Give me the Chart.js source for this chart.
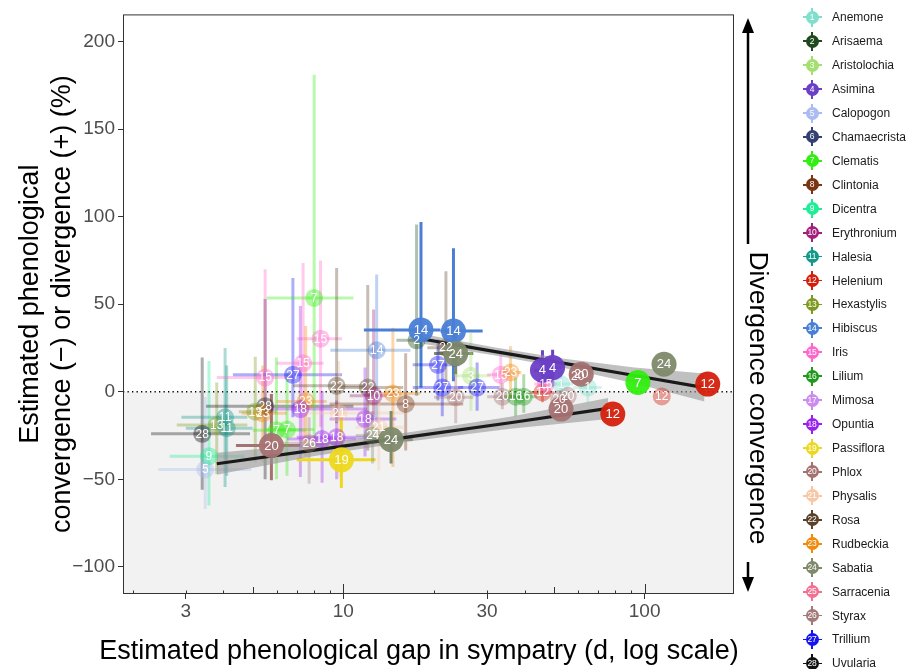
<!DOCTYPE html>
<html>
<head>
<meta charset="utf-8">
<script src="https://cdn.jsdelivr.net/npm/chart.js@4.4.1/dist/chart.umd.min.js"></script>
<style>
  html, body { margin: 0; padding: 0; background: #fff; }
  #wrap { position: relative; width: 906px; height: 669px; font-family: "Liberation Sans", Arial, sans-serif; }
  .item { position: absolute; left: 798px; height: 24px; display: flex; align-items: center; font-size: 12px; color: #1a1a1a; white-space: nowrap; }
  .key { position: relative; width: 28px; height: 24px; margin-right: 6px; flex: none; }
  .key .h { position: absolute; left: 4.5px; top: 11.1px; width: 19px; height: 1.8px; }
  .key .v { position: absolute; left: 13.1px; top: 2.5px; width: 1.8px; height: 19px; }
  .key .dot { position: absolute; left: 7.5px; top: 5.5px; width: 13px; height: 13px; border-radius: 50%; color: #fff; font-size: 8.5px; line-height: 13px; text-align: center; letter-spacing: -0.3px; }
</style>
</head>
<body>
<div id="wrap">
  <canvas id="chart" width="906" height="669"></canvas>
  <div id="legend"></div>
</div>
<script>
const FONT = '"Liberation Sans", Arial, sans-serif';

const genera = [
  "Anemone", "Arisaema", "Aristolochia", "Asimina", "Calopogon", "Chamaecrista", "Clematis",
  "Clintonia", "Dicentra", "Erythronium", "Halesia", "Helenium", "Hexastylis", "Hibiscus",
  "Iris", "Lilium", "Mimosa", "Opuntia", "Passiflora", "Phlox", "Physalis", "Rosa",
  "Rudbeckia", "Sabatia", "Sarracenia", "Styrax", "Trillium", "Uvularia"
];

const palette = [
  "#7fdfcc", "#1f4a1f", "#a4e070", "#6b3fc6", "#aabcf2", "#34406f", "#33ee11",
  "#7a3512", "#20ee96", "#a3207a", "#12998a", "#d3200c", "#7d9a1e", "#4a7fd6",
  "#ff66cc", "#1f9a1a", "#cc8cef", "#9a22ee", "#ecd81e", "#a57272", "#f7c8a6", "#5b4129",
  "#f28a0c", "#7e8a6b", "#f27192", "#a37a7a", "#1414f0", "#111111"
];

// one entry per species pair: genus number, gap in sympatry (d), change (%), intervals
const ptGenus = [28, 5, 9, 13, 11, 11, 28, 13, 23, 20, 7, 7, 15, 27, 15, 15, 7, 23, 18, 26,
  18, 18, 21, 19, 22, 14, 22, 10, 23, 8, 18, 21, 24, 24, 14, 14, 2, 22, 24, 27,
  3, 27, 27, 20, 15, 23, 20, 16, 16, 12, 15, 4, 4, 1, 1, 20, 20, 20, 20, 20,
  24, 7, 12, 12, 12];
const ptGap = [3.4, 3.48, 3.58, 3.8, 4.05, 4.1, 5.5, 5.1, 5.4, 5.77, 6.0, 6.5, 5.5, 6.8, 7.35, 8.4, 8.0, 7.5, 7.2, 7.7,
  8.5, 9.5, 9.65, 9.85, 9.5, 12.9, 12.05, 12.6, 14.6, 16.1, 11.8, 13.1, 12.5, 14.4, 18.1, 23.2, 17.5, 21.9, 23.6, 20.6,
  26.5, 27.8, 21.3, 23.6, 33.3, 35.9, 33.7, 37.3, 39.7, 45.8, 47, 45.8, 49.5, 52.8, 64.8, 60, 61.6, 52, 55.6, 52.8,
  116, 95, 162, 114, 78.4];
const ptChange = [-24, -44.4, -36.8, -19, -14.6, -20.8, -8.3, -11.4, -12.3, -30.7, -22, -21.6, 8.1, 9.7, 16.3, 30.3, 53.6, -5.5, -9.9, -29.4,
  -27, -26, -12.1, -38.9, 3.4, 23.7, 2.4, -2.3, -1, -7, -15.5, -20.3, -25, -27.3, 35.3, 34.7, 29.4, 25.2, 21.8, 15.4,
  9.1, 2.4, 2.4, -3.2, 9.7, 11, -2.8, -2.8, -2.8, -0.4, 4.4, 12.3, 13.8, 4.4, 2.4, 9.1, 10, -4.2, -2.3, -9.9,
  15.7, 5.3, 4.4, -2.7, -12.7];
const ptGapLo = [2.3, 2.43, 2.65, 2.8, 2.9, 3.0, 3.5, 4.5, 4.6, 4.4, 5.0, 5.5, 3.8, 4.3, 6.0, 7.0, 5.57, 6.0, 5.5, 6.0,
  6.5, 7.0, 7.5, 7.0, 6.8, 9.05, 9.8, 10.5, 13.2, 9, 9, 11, 11, 12, 11.7, 21, 15, 19, 20, 17,
  23.2, 24, 17, 20, 30, 33, 30, 33, 36, 41, 43, 43, 46, 48, 58, null, null, null, null, null,
  null, null, null, null, null];
const ptGapHi = [4.9, 4.95, 4.7, 4.8, 4.8, 5.0, 10.8, 6.0, 6.5, 7.2, 7.5, 8.0, 6.8, 9.9, 8.6, 9.9, 10.8, 8.8, 12, 10,
  11, 12, 16, 12.8, 12, 16.7, 15.8, 15, 18, 25, 15, 16, 14, 17, 21, 29, 20, 25, 27, 24.3,
  30.9, 33, 25, 27, 37, 39, 37, 41, 44, 50, 51, 49, 53, 58, 72, null, null, null, null, null,
  null, null, null, null, null];
const ptChangeLo = [-56, -67, -65, -47, -54.4, -48, -50, -40, -40, -50.6, -50, -48, -14.6, -14.6, -26, -20, -26, -37, -48.7, -52.5,
  -52, -50, -48.7, -55, -18, -18, -33.6, -14.6, -43, -33.6, -37, -45, -41, -41, 2.4, 6, -2.3, 4.5, 10, -5,
  -10.8, -10.8, -14, -18, -5, -3, -10, -14, -12, -6, -3, 2.5, 3, -4, -6, null, null, null, null, null,
  null, null, null, null, null];
const ptChangeHi = [19.5, -3, 17.6, 5.3, 25, 15, 53, 20, 15, -1.3, 19.5, 10, 70, 65, 73.5, 75, 181, 37.5, 49, -14.6,
  0.5, -5, 17.6, -14.6, 70.7, 67, 61, 47, 36.6, 22, 13.8, -5, -11, -11, 97, 82, 95.5, 68.8, 35, 30,
  33.7, 16.7, 15, 10, 22, 26, 5, 8, 10, 5, 12, 23.7, 24, 12, 10, null, null, null, null, null,
  null, null, null, null, null];
const ptSignificant = [0, 0, 0, 0, 0, 0, 0, 0, 0, 1, 0, 0, 0, 0, 0, 0, 0, 0, 0, 0,
  0, 0, 0, 1, 0, 0, 0, 0, 0, 0, 0, 0, 0, 1, 1, 1, 0, 0, 1, 0,
  0, 0, 0, 0, 0, 0, 0, 0, 0, 0, 0, 1, 1, 0, 0, 0, 1, 0, 0, 1,
  1, 1, 1, 0, 1];

// fitted trends with confidence bands
const divFitX = [18.5, 31.6, 54.1, 92.5, 158];
const divFitY = [30, 23.1, 16.2, 9.3, 2.4];
const divBandLo = [27.2, 20.8, 13.6, 4.8, -5.6];
const divBandHi = [32.8, 25.4, 18.8, 13.8, 10.4];
const conFitX = [3.8, 8.03, 17.0, 35.8, 75.7];
const conFitY = [-41.1, -33.3, -25.5, -17.7, -9.5];
const conBandLo = [-47.4, -36.7, -28.1, -21.1, -15.5];
const conBandHi = [-34.8, -29.9, -22.9, -14.3, -3.5];

const xTicks = [3, 10, 30, 100];
const yTicks = [-100, -50, 0, 50, 100, 150, 200];
const xLogMarks = [2, 3, 4, 5, 6, 7, 8, 9, 10, 20, 30, 40, 50, 60, 70, 80, 90, 100];

const xTitle = "Estimated phenological gap in sympatry (d, log scale)";
const yTitle = ["Estimated phenological", "convergence (\u2212) or divergence (+) (%)"];
const sideTitle = "Divergence convergence";

function withAlpha(hex, a) {
  const n = parseInt(hex.slice(1), 16);
  return `rgba(${(n >> 16) & 255}, ${(n >> 8) & 255}, ${n & 255}, ${a})`;
}

function xy(xs, ys) {
  return xs.map((v, i) => ({ x: v, y: ys[i] }));
}

function pointsFor(sig) {
  const out = [];
  ptGenus.forEach((g, i) => {
    if (!!ptSignificant[i] === sig) out.push({ x: ptGap[i], y: ptChange[i], g });
  });
  return out;
}

// legend built as html next to the canvas
function buildLegend() {
  const box = document.getElementById("legend");
  genera.forEach((name, i) => {
    const col = palette[i];
    const el = document.createElement("div");
    el.className = "item";
    el.style.top = (17.3 + 23.93 * i - 12) + "px";
    el.innerHTML =
      `<span class="key"><span class="h" style="background:${col}"></span>` +
      `<span class="v" style="background:${col}"></span>` +
      `<span class="dot" style="background:${col}">${i + 1}</span></span>${name}`;
    box.appendChild(el);
  });
}

const panelDecor = {
  id: "panelDecor",
  beforeDatasetsDraw(chart) {
    const { ctx, chartArea: a, scales: { x, y } } = chart;
    const y0 = y.getPixelForValue(0);
    ctx.save();
    ctx.beginPath();
    ctx.rect(a.left, a.top, a.right - a.left, a.bottom - a.top);
    ctx.clip();
    // convergence half of the panel
    ctx.fillStyle = "#f2f2f2";
    ctx.fillRect(a.left, y0, a.right - a.left, a.bottom - y0);
    ctx.strokeStyle = "#000";
    ctx.lineWidth = 1.3;
    ctx.setLineDash([1.3, 3.2]);
    ctx.beginPath();
    ctx.moveTo(a.left, y0);
    ctx.lineTo(a.right, y0);
    ctx.stroke();
    ctx.setLineDash([]);

    // error bars
    ctx.lineWidth = 3;
    for (let i = 0; i < ptGenus.length; i++) {
      ctx.strokeStyle = withAlpha(palette[ptGenus[i] - 1], ptSignificant[i] ? 1 : 0.35);
      const px = x.getPixelForValue(ptGap[i]);
      const py = y.getPixelForValue(ptChange[i]);
      ctx.beginPath();
      if (ptGapLo[i] != null) {
        ctx.moveTo(x.getPixelForValue(ptGapLo[i]), py);
        ctx.lineTo(x.getPixelForValue(ptGapHi[i]), py);
      }
      if (ptChangeLo[i] != null) {
        ctx.moveTo(px, y.getPixelForValue(ptChangeLo[i]));
        ctx.lineTo(px, y.getPixelForValue(ptChangeHi[i]));
      }
      ctx.stroke();
    }
    ctx.restore();
  },
  afterDatasetsDraw(chart) {
    const { ctx, chartArea: a, scales: { x } } = chart;
    ctx.save();
    // genus numbers in the points
    ctx.fillStyle = "#fff";
    ctx.textAlign = "center";
    ctx.textBaseline = "middle";
    chart.data.datasets.forEach((ds, di) => {
      if (!ds.isPoints) return;
      ctx.font = (ds.sig ? 13 : 12) + "px " + FONT;
      chart.getDatasetMeta(di).data.forEach((el, i) => {
        ctx.fillText(String(ds.data[i].g), el.x, el.y + 0.5);
      });
    });

    // log ticks inside the panel bottom
    ctx.strokeStyle = "#333";
    ctx.lineWidth = 1;
    xLogMarks.forEach(v => {
      const px = Math.round(x.getPixelForValue(v)) + 0.5;
      const d = v / Math.pow(10, Math.floor(Math.log10(v) + 1e-9));
      const len = d === 1 ? 10 : d === 5 ? 7 : 3.5;
      ctx.beginPath();
      ctx.moveTo(px, a.bottom);
      ctx.lineTo(px, a.bottom - len);
      ctx.stroke();
    });

    // panel border
    ctx.strokeStyle = "#333";
    ctx.strokeRect(a.left + 0.5, a.top + 0.5, a.right - a.left - 1, a.bottom - a.top - 1);
    ctx.restore();
  },
  afterDraw(chart) {
    const { ctx, chartArea: a } = chart;
    ctx.save();
    ctx.fillStyle = "#000";
    ctx.textAlign = "center";
    ctx.textBaseline = "middle";
    // x title, centred on the plot region left of the side arrows
    ctx.font = "27px " + FONT;
    ctx.fillText(xTitle, (a.left + a.right) / 2 - 9.5, chart.height - 17);

    // divergence / convergence arrows
    const ax = a.right + 14;
    ctx.strokeStyle = "#000";
    ctx.lineWidth = 2.5;
    ctx.beginPath();
    ctx.moveTo(ax, 244);
    ctx.lineTo(ax, 30);
    ctx.moveTo(ax, 562);
    ctx.lineTo(ax, 580);
    ctx.stroke();
    ctx.beginPath();
    ctx.moveTo(ax, 18);
    ctx.lineTo(ax - 6, 33);
    ctx.lineTo(ax + 6, 33);
    ctx.closePath();
    ctx.fill();
    ctx.beginPath();
    ctx.moveTo(ax, 592);
    ctx.lineTo(ax - 6, 577);
    ctx.lineTo(ax + 6, 577);
    ctx.closePath();
    ctx.fill();

    ctx.translate(ax + 9, 398);
    ctx.rotate(Math.PI / 2);
    ctx.font = "26.5px " + FONT;
    ctx.fillText(sideTitle, 0, 0);
    ctx.restore();
  }
};

buildLegend();

const bandStyle = { type: "line", pointRadius: 0, borderWidth: 0, order: 6 };

new Chart(document.getElementById("chart"), {
  type: "scatter",
  data: {
    datasets: [
      { ...bandStyle, data: xy(divFitX, divBandLo), fill: false },
      { ...bandStyle, data: xy(divFitX, divBandHi), fill: "-1", backgroundColor: "rgba(150,150,150,0.6)" },
      { ...bandStyle, data: xy(conFitX, conBandLo), fill: false },
      { ...bandStyle, data: xy(conFitX, conBandHi), fill: "-1", backgroundColor: "rgba(150,150,150,0.6)" },
      { type: "line", data: xy(divFitX, divFitY), borderColor: "#1a1a1a", borderWidth: 3.2, pointRadius: 0, order: 5 },
      { type: "line", data: xy(conFitX, conFitY), borderColor: "#1a1a1a", borderWidth: 3.2, pointRadius: 0, order: 5 },
      {
        isPoints: true, sig: false, order: 2,
        data: pointsFor(false),
        pointRadius: 9,
        borderWidth: 0,
        backgroundColor: c => withAlpha(palette[c.raw.g - 1], 0.4)
      },
      {
        isPoints: true, sig: true, order: 1,
        data: pointsFor(true),
        pointRadius: 12.5,
        borderWidth: 0,
        backgroundColor: c => withAlpha(palette[c.raw.g - 1], 0.95)
      }
    ]
  },
  options: {
    responsive: false,
    animation: false,
    events: [],
    layout: { padding: { top: 12, right: 172, bottom: 0, left: 0 } },
    plugins: { legend: { display: false }, tooltip: { enabled: false } },
    scales: {
      x: {
        type: "logarithmic",
        min: 1.856,
        max: 198,
        afterBuildTicks: s => { s.ticks = xTicks.map(v => ({ value: v })); },
        afterFit: s => { s.height = 75; },
        border: { display: false },
        grid: { drawOnChartArea: false, color: "#333", tickLength: 5 },
        ticks: {
          color: "#4d4d4d", font: { size: 19, family: FONT }, padding: 1,
          maxRotation: 0, autoSkip: false, callback: v => String(v)
        },
        title: { display: false }
      },
      y: {
        min: -115.5,
        max: 215.5,
        afterBuildTicks: s => { s.ticks = yTicks.map(v => ({ value: v })); },
        afterFit: s => { s.width = 123; },
        border: { display: false },
        grid: { drawOnChartArea: false, color: "#333", tickLength: 5 },
        ticks: {
          color: "#4d4d4d", font: { size: 19, family: FONT }, padding: 3,
          callback: v => (v < 0 ? "\u2212" + Math.abs(v) : String(v))
        },
        title: {
          display: true,
          text: yTitle,
          color: "#000", font: { size: 27, family: FONT }, padding: { top: 14, bottom: 0 }
        }
      }
    }
  },
  plugins: [panelDecor]
});
</script>
</body>
</html>
